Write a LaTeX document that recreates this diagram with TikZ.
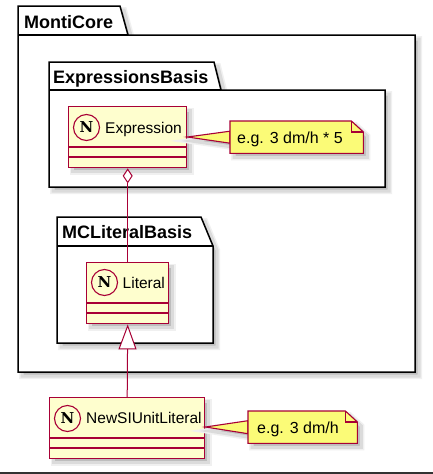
\documentclass[tikz,border=0pt]{standalone}
\usepackage{fontspec}
\newfontfamily\uisans{Liberation Sans}
\newfontfamily\spotfont{DejaVu Serif}
\usetikzlibrary{arrows.meta,calc}
\definecolor{clsfill}{HTML}{FEFECE}
\definecolor{clsline}{HTML}{A80036}
\definecolor{notefill}{HTML}{FBFB77}
\begin{document}
\begin{tikzpicture}[x=1pt,y=-1pt,
 sh/.style={preaction={draw=black!6,line width=6pt,transform canvas={shift={(4pt,-4pt)}}},
            preaction={draw=black!14,fill=black!26,line width=3pt,transform canvas={shift={(4pt,-4pt)}}}},
 pkg/.style={draw=black,line width=1.5pt,fill=white,line join=miter},
 pkgtitle/.style={font=\uisans\bfseries\fontsize{18}{20}\selectfont,inner sep=0pt,anchor=base west},
 cls/.style={draw=clsline,fill=clsfill,line width=1.4pt,anchor=north west,inner sep=0pt,minimum height=61pt,sh},
 sep/.style={draw=clsline,line width=1.4pt},
 spot/.style={circle,draw=clsline,line width=1.1pt,minimum size=26pt,inner sep=0pt,font=\spotfont\bfseries\fontsize{15}{15}\selectfont},
 clsname/.style={font=\uisans\fontsize{15.5}{18}\selectfont,inner sep=0pt,anchor=base west},
 notebox/.style={anchor=north west,inner sep=0pt,minimum height=32pt},
 noteshape/.style={draw=clsline,fill=notefill,line width=1.1pt,line join=miter},
 notetext/.style={font=\uisans\fontsize{16}{18}\selectfont,inner sep=0pt,anchor=base west},
 link/.style={draw=clsline,line width=1pt},
]
\path[use as bounding box] (0,0) rectangle (433,474);
\fill[white] (0,0) rectangle (433,474);
\draw[black!80,line width=2pt] (0,473) -- (433,473);

% packages
\path[pkg,sh] (18,35) -- (18,6) -- (120,6) -- (128,35) -- (415,35) -- (415,372) -- (18,372) -- cycle;
\draw[pkg] (18,35) -- (128,35);
\node[pkgtitle] (pMC) at (24,28) {MontiCore};

\path[pkg,sh] (49,90) -- (49,62) -- (214,62) -- (221,90) -- (385,90) -- (385,187) -- (49,187) -- cycle;
\draw[pkg] (49,90) -- (221,90);
\node[pkgtitle] (pEB) at (53,83) {ExpressionsBasis};

\path[pkg,sh] (57,246) -- (57,217) -- (201,217) -- (213,246) -- (213,343) -- (57,343) -- cycle;
\draw[pkg] (57,246) -- (213,246);
\node[pkgtitle] (pLB) at (62,238) {MCLiteralBasis};

% classes
\node[cls,minimum width=118pt] (expr) at (68,106) {};
\draw[sep] ($(expr.north west)+(0,41)$) -- ($(expr.north east)+(0,41)$);
\draw[sep] ($(expr.north west)+(0,51)$) -- ($(expr.north east)+(0,51)$);
\node[spot] (exprS) at ($(expr.north west)+(18.5,21.5)$) {N};
\node[clsname] (exprT) at ($(expr.north west)+(37,27)$) {Expression};

\node[cls,minimum width=82pt] (lit) at (86,262) {};
\draw[sep] ($(lit.north west)+(0,41)$) -- ($(lit.north east)+(0,41)$);
\draw[sep] ($(lit.north west)+(0,51)$) -- ($(lit.north east)+(0,51)$);
\node[spot] (litS) at ($(lit.north west)+(18.5,20.5)$) {N};
\node[clsname] (litT) at ($(lit.north west)+(36.5,26)$) {Literal};

\node[cls,minimum width=155pt] (newsi) at (49,397) {};
\draw[sep] ($(newsi.north west)+(0,41)$) -- ($(newsi.north east)+(0,41)$);
\draw[sep] ($(newsi.north west)+(0,51)$) -- ($(newsi.north east)+(0,51)$);
\node[spot] (newsiS) at ($(newsi.north west)+(18.5,21.5)$) {N};
\node[clsname] (newsiT) at ($(newsi.north west)+(37,26)$) {NewSIUnitLiteral};

% note 1
\node[notebox,minimum width=133pt] (n1) at (230,121) {};
\coordinate (e1) at ($(expr.north east)+(0,31)$);
\path[noteshape,sh] (e1) -- ($(n1.west)+(0,-6)$) -- ($(n1.west)+(0,6)$) -- cycle;
\path[noteshape,sh] (n1.north west) -- ($(n1.north east)+(-12,0)$) -- ($(n1.north east)+(0,11)$) -- (n1.south east) -- (n1.south west) -- cycle;
\draw[noteshape,fill=none] ($(n1.north east)+(-12,0)$) -- ($(n1.north east)+(-12,11)$) -- ($(n1.north east)+(0,11)$);
\node[notetext] (n1t) at ($(n1.north west)+(7,22)$) {e.g. 3 dm/h * 5};

% note 2
\node[notebox,minimum width=109pt] (n2) at (248,411) {};
\coordinate (e2) at ($(newsi.north east)+(0,30)$);
\path[noteshape,sh] (e2) -- ($(n2.west)+(0,-6.5)$) -- ($(n2.west)+(0,6.5)$) -- cycle;
\path[noteshape,sh] (n2.north west) -- ($(n2.north east)+(-12,0)$) -- ($(n2.north east)+(0,11)$) -- (n2.south east) -- (n2.south west) -- cycle;
\draw[noteshape,fill=none] ($(n2.north east)+(-12,0)$) -- ($(n2.north east)+(-12,11)$) -- ($(n2.north east)+(0,11)$);
\node[notetext] (n2t) at ($(n2.north west)+(9,22)$) {e.g. 3 dm/h};

% connectors
\draw[link,{Diamond[fill=white,length=15pt,width=10pt]}-] (expr.south) -- (lit.north);
\draw[link,-{Triangle[fill=white,length=25pt,width=18pt]}] (newsi.north) -- (lit.south);
\end{tikzpicture}
\end{document}
